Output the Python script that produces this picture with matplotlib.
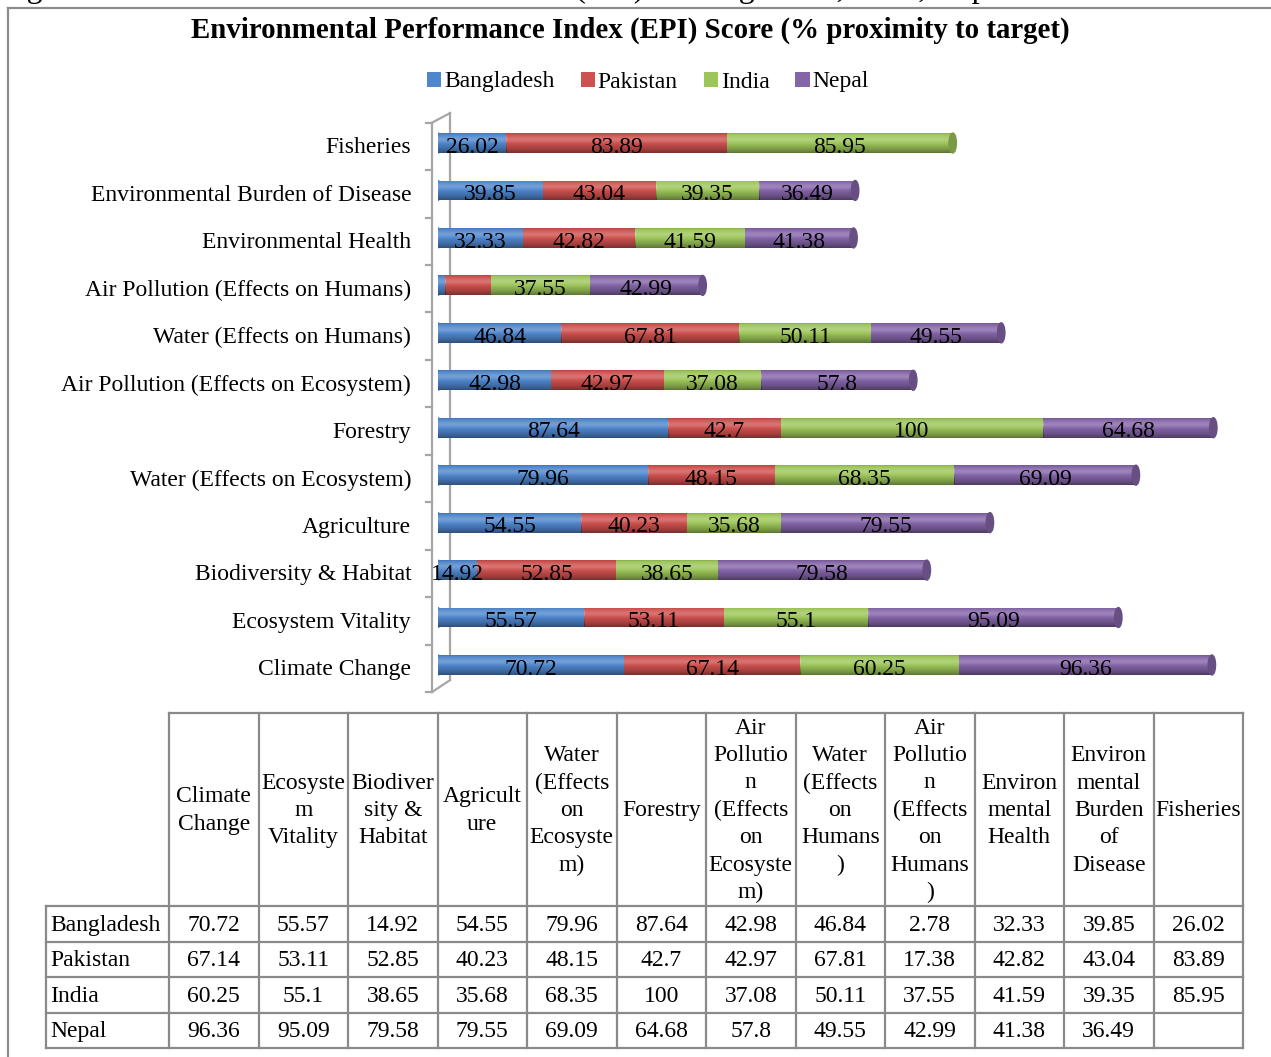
import numpy as np
import matplotlib
matplotlib.use("Agg")
import matplotlib.pyplot as plt
from matplotlib.patches import Patch, Ellipse
from matplotlib.lines import Line2D
from matplotlib import transforms

plt.rcParams['font.family'] = ['Liberation Serif', 'DejaVu Serif']

# ---- data (bottom-to-top order of the bars = left-to-right order of the table) ----
categories = ["Climate Change", "Ecosystem Vitality", "Biodiversity & Habitat",
              "Agriculture", "Water (Effects on Ecosystem)", "Forestry",
              "Air Pollution (Effects on Ecosystem)", "Water (Effects on Humans)",
              "Air Pollution (Effects on Humans)", "Environmental Health",
              "Environmental Burden of Disease", "Fisheries"]
table_headers = ["Climate\nChange", "Ecosyste\nm\nVitality", "Biodiver\nsity &\nHabitat",
                 "Agricult\nure", "Water\n(Effects\non\nEcosyste\nm)", "Forestry",
                 "Air\nPollutio\nn\n(Effects\non\nEcosyste\nm)",
                 "Water\n(Effects\non\nHumans\n)",
                 "Air\nPollutio\nn\n(Effects\non\nHumans\n)",
                 "Environ\nmental\nHealth", "Environ\nmental\nBurden\nof\nDisease",
                 "Fisheries"]
countries = ["Bangladesh", "Pakistan", "India", "Nepal"]
bangladesh = [70.72, 55.57, 14.92, 54.55, 79.96, 87.64, 42.98, 46.84, 2.78, 32.33, 39.85, 26.02]
pakistan = [67.14, 53.11, 52.85, 40.23, 48.15, 42.7, 42.97, 67.81, 17.38, 42.82, 43.04, 83.89]
india = [60.25, 55.1, 38.65, 35.68, 68.35, 100, 37.08, 50.11, 37.55, 41.59, 39.35, 85.95]
nepal = [96.36, 95.09, 79.58, 79.55, 69.09, 64.68, 57.8, 49.55, 42.99, 41.38, 36.49, np.nan]
colors = ["#4f86cc", "#cd514e", "#9dc65a", "#8465a8"]
# data labels that are not shown on the bars
hidden_labels = {("Air Pollution (Effects on Humans)", "Bangladesh"),
                 ("Air Pollution (Effects on Humans)", "Pakistan")}

series = [bangladesh, pakistan, india, nepal]

W, H = 1271, 1057
FS = 17
fig = plt.figure(figsize=(W / 100, H / 100), dpi=100)


def fx(px):
    return px / W


def fy(py):
    return 1 - py / H


# ---- outer chart frame (top and left edges) ----
frame_kw = dict(color="#8c8c8c", lw=1.6, transform=fig.transFigure)
fig.add_artist(Line2D([fx(8), 1.0], [fy(8), fy(8)], **frame_kw))
fig.add_artist(Line2D([fx(8), fx(8)], [fy(8), 0.0], **frame_kw))

# caption sitting above the chart frame, at the very top of the page
fig.text(fx(0), fy(-3), "Figure 3: Environmental Performance Index (EPI) of Bangladesh, India, Nepal and Pakistan",
         fontsize=23, va="baseline", ha="left", color="black")

fig.text(fx(630), fy(30), "Environmental Performance Index (EPI) Score (% proximity to target)",
         fontsize=20.8, fontweight="bold", ha="center", va="center")

# ---- bar chart ----
ax_bottom, ax_top = 688.7, 119.3
ax = fig.add_axes([fx(438), fy(ax_bottom), 788.4 / W, (ax_bottom - ax_top) / H])
ax.set_axis_off()

ypos = np.arange(len(categories))
bar_h = 0.42


def cylinder_shade(n=64):
    t = np.linspace(0, 1, n)
    L = 0.22 * np.exp(-((t - 0.32) / 0.17) ** 2) - 0.42 * t ** 3 - 0.12 * np.exp(-(t / 0.06) ** 2)
    img = np.zeros((n, 1, 4))
    img[:, 0, :3] = np.where(L > 0, 1.0, 0.0)[:, None]
    img[:, 0, 3] = np.abs(L)
    return img


shade = cylinder_shade()
left = np.zeros(len(categories))
last_end = np.zeros(len(categories))
last_color = [None] * len(categories)
for s, (name, vals, col) in enumerate(zip(countries, series, colors)):
    vals = np.asarray(vals, dtype=float)
    widths = np.nan_to_num(vals)
    bars = ax.barh(ypos, widths, left=left, height=bar_h, color=col, edgecolor="none", zorder=2)
    for i, (b, v) in enumerate(zip(bars, vals)):
        if np.isnan(v) or v == 0:
            continue
        x0, y0 = b.get_x(), b.get_y()
        im = ax.imshow(shade, extent=(x0, x0 + b.get_width(), y0, y0 + b.get_height()),
                       origin="upper", aspect="auto", interpolation="bilinear", zorder=3)
        im.set_clip_path(b)
        last_end[i] = x0 + b.get_width()
        last_color[i] = col
        if s == 0:
            ax.add_patch(Ellipse((x0, ypos[i]), 2.2, bar_h, color=col, zorder=1.5))
        if (categories[i], name) not in hidden_labels:
            ax.text(x0 + b.get_width() / 2, ypos[i] - 0.09, f"{v:g}", ha="center", va="center",
                    fontsize=FS, zorder=5)
    left = left + widths

# rounded right ends of the cylinders
for i in range(len(categories)):
    c = np.array(matplotlib.colors.to_rgb(last_color[i])) * 0.78
    ax.add_patch(Ellipse((last_end[i], ypos[i]), 2.8, bar_h, color=c, zorder=4))

ax.set_xlim(0, 300)
ax.set_ylim(-0.5, len(categories) - 0.5)

# category labels
blend = transforms.blended_transform_factory(ax.transAxes, ax.transData)
for i, cat in enumerate(categories):
    ax.text(-0.034, ypos[i] - 0.1, cat, transform=blend, ha="right", va="center", fontsize=FS)

# 3-D style category axis (front edge, back edge, connecting diagonals, ticks)
ax_kw = dict(color="#a6a6a6", lw=1.6, transform=blend, clip_on=False)
front_x, back_x, tick_x = -0.0076, 0.0152, -0.0152
y_lo_f, y_hi_f = -0.57, len(categories) - 0.57
y_lo_b, y_hi_b = -0.32, len(categories) - 0.37
ax.add_line(Line2D([front_x, front_x], [y_lo_f, y_hi_f], zorder=6, **ax_kw))
ax.add_line(Line2D([back_x, back_x], [y_lo_b, y_hi_b], zorder=0.5, **ax_kw))
ax.add_line(Line2D([front_x, back_x], [y_lo_f, y_lo_b], zorder=6, **ax_kw))
ax.add_line(Line2D([front_x, back_x], [y_hi_f, y_hi_b], zorder=6, **ax_kw))
for k in range(len(categories) + 1):
    ax.add_line(Line2D([tick_x, front_x], [k - 0.57, k - 0.57], zorder=6, **ax_kw))

# legend
handles = [Patch(facecolor=c, edgecolor="none", label=n) for n, c in zip(countries, colors)]
fig.legend(handles=handles, loc="center", bbox_to_anchor=(fx(648), fy(82)), ncol=4,
           frameon=False, fontsize=FS, handlelength=0.6, handleheight=0.6,
           handletextpad=0.12, columnspacing=1.1)

# ---- data table ----
t_left, t_right, t_top, t_bot = 46, 1243, 713, 1048
tax = fig.add_axes([fx(t_left), fy(t_bot), (t_right - t_left) / W, (t_bot - t_top) / H])
tax.set_axis_off()
tw, th = t_right - t_left, t_bot - t_top
tax.set_xlim(0, tw)
tax.set_ylim(th, 0)
label_w = 123
col_w = (tw - label_w) / len(categories)
head_h = 193
row_h = (th - head_h) / len(countries)
line_kw = dict(color="#8a8a8a", lw=1.6, clip_on=False)

tax.plot([label_w, tw], [0, 0], **line_kw)
for r in range(len(countries) + 1):
    yy = head_h + r * row_h
    tax.plot([0, tw], [yy, yy], **line_kw)
tax.plot([0, 0], [head_h, th], **line_kw)
for c in range(len(categories) + 1):
    xx = label_w + c * col_w
    tax.plot([xx, xx], [0, th], **line_kw)

for c, hdr in enumerate(table_headers):
    tax.text(label_w + (c + 0.5) * col_w, head_h / 2 + 1, hdr, ha="center", va="center",
             fontsize=FS, linespacing=1.4)
for r, (name, vals) in enumerate(zip(countries, series)):
    yc = head_h + (r + 0.5) * row_h + 1.5
    tax.text(4, yc, name, ha="left", va="center", fontsize=FS)
    for c, v in enumerate(vals):
        txt = "" if np.isnan(v) else f"{v:g}"
        tax.text(label_w + (c + 0.5) * col_w, yc, txt, ha="center", va="center", fontsize=FS)

fig.savefig("out.png", dpi=100)
